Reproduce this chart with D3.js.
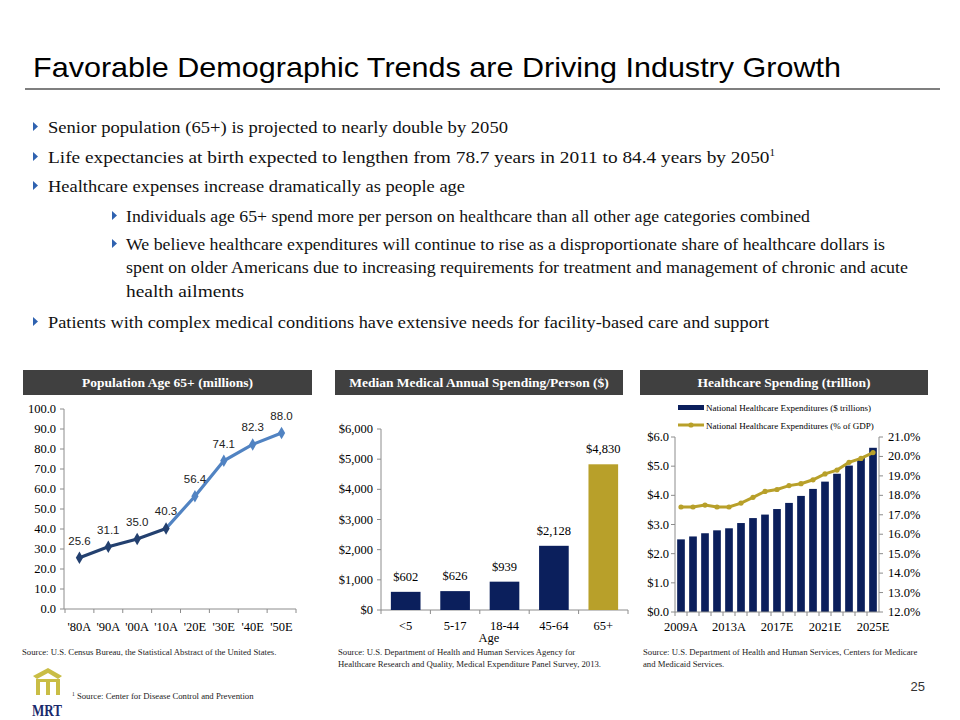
<!DOCTYPE html>
<html>
<head>
<meta charset="utf-8">
<script src="https://cdn.jsdelivr.net/npm/d3@7"></script>
<style>
  body { margin: 0; background: #fff; }
  svg { display: block; }
  .serif { font-family: "Liberation Serif", "Times New Roman", serif; }
  .sans { font-family: "Liberation Sans", Arial, sans-serif; }
</style>
</head>
<body>
<svg id="slide" width="960" height="720"></svg>
<script>
// ---- data ----
var popYears = ["'80A", "'90A", "'00A", "'10A", "'20E", "'30E", "'40E", "'50E"];
var popValues = [25.6, 31.1, 35.0, 40.3, 56.4, 74.1, 82.3, 88.0];
var popTicks = [0, 10, 20, 30, 40, 50, 60, 70, 80, 90, 100];

var ageGroups = ["<5", "5-17", "18-44", "45-64", "65+"];
var spendValues = [602, 626, 939, 2128, 4830];
var spendTicks = [0, 1000, 2000, 3000, 4000, 5000, 6000];

var nheYears = ["2009A", "2010A", "2011A", "2012A", "2013A", "2014A", "2015A", "2016E", "2017E",
  "2018E", "2019E", "2020E", "2021E", "2022E", "2023E", "2024E", "2025E"];
var nheTrillions = [2.49, 2.59, 2.70, 2.80, 2.87, 3.05, 3.22, 3.34, 3.53, 3.74, 3.98, 4.22, 4.47, 4.74, 5.02, 5.28, 5.63];
var nheGdpPct = [17.4, 17.4, 17.5, 17.4, 17.4, 17.6, 17.9, 18.2, 18.3, 18.5, 18.6, 18.8, 19.1, 19.3, 19.7, 19.9, 20.2];
var nheLabelYears = ["2009A", "2013A", "2017E", "2021E", "2025E"];
var leftTicks = [0, 1, 2, 3, 4, 5, 6];
var rightTicks = [12, 13, 14, 15, 16, 17, 18, 19, 20, 21];

var navy = "#0b1f5c";
var gold = "#b8a02a";
var axisGray = "#8c8c8c";
var tickSize = 12.5;
var serifFont = '"Liberation Serif", "Times New Roman", serif';

var svg = d3.select("#slide");

// ---- title ----
svg.append("text")
    .attr("class", "sans")
    .attr("x", 33).attr("y", 77)
    .attr("font-size", 28)
    .attr("textLength", 808)
    .attr("lengthAdjust", "spacingAndGlyphs")
    .text("Favorable Demographic Trends are Driving Industry Growth");

svg.append("line")
    .attr("x1", 25).attr("x2", 940)
    .attr("y1", 89).attr("y2", 89)
    .attr("stroke", "#000").attr("stroke-width", 1.2);

// ---- bullets ----
var bullets = [
    { level: 0, y: 133, w: 460, text: "Senior population (65+) is projected to nearly double by 2050" },
    { level: 0, y: 163, w: 727, text: "Life expectancies at birth expected to lengthen from 78.7 years in 2011 to 84.4 years by 2050", sup: "1" },
    { level: 0, y: 192, w: 417, text: "Healthcare expenses increase dramatically as people age" },
    { level: 1, y: 222, w: 684, text: "Individuals age 65+ spend more per person on healthcare than all other age categories combined" },
    { level: 1, y: 250, w: 759, text: "We believe healthcare expenditures will continue to rise as a disproportionate share of healthcare dollars is" },
    { level: 1, y: 273, w: 782, text: "spent on older Americans due to increasing requirements for treatment and management of chronic and acute", noMark: true },
    { level: 1, y: 297, w: 118, text: "health ailments", noMark: true },
    { level: 0, y: 328, w: 721, text: "Patients with complex medical conditions have extensive needs for facility-based care and support" }
];

bullets.forEach(function(b) {
    var tx = b.level === 0 ? 48 : 126;
    var mx = b.level === 0 ? 33 : 112;
    if (!b.noMark) {
        svg.append("path")
            .attr("d", "M" + mx + "," + (b.y - 11) + "L" + (mx + 5) + "," + (b.y - 6.5) + "L" + mx + "," + (b.y - 2) + "Z")
            .attr("fill", "#2f62b0");
    }
    var t = svg.append("text")
        .style("font-family", serifFont)
        .attr("x", tx).attr("y", b.y)
        .attr("font-size", 17.5)
        .attr("fill", "#111")
        .attr("textLength", b.w)
        .attr("lengthAdjust", "spacingAndGlyphs")
        .text(b.text);
    if (b.sup) {
        t.append("tspan").attr("font-size", 10).attr("dy", -7).text(b.sup);
    }
});

// ---- header bars ----
function header(x, w, label) {
    svg.append("rect")
        .attr("x", x).attr("y", 370).attr("width", w).attr("height", 25)
        .attr("fill", "#404040");
    svg.append("text")
        .attr("class", "serif")
        .attr("x", x + w / 2).attr("y", 387)
        .attr("text-anchor", "middle")
        .attr("font-size", 13.5).attr("font-weight", "bold")
        .attr("fill", "#fff")
        .text(label);
}
header(23, 289, "Population Age 65+ (millions)");
header(335, 288, "Median Medical Annual Spending/Person ($)");
header(640, 288, "Healthcare Spending (trillion)");

// ---- chart 1: population line ----
var x1 = d3.scaleBand().domain(popYears).range([65, 296]);
var y1 = d3.scaleLinear().domain([0, 100]).range([609, 409]);

var g1 = svg.append("g");
g1.append("line").attr("x1", 64).attr("x2", 64).attr("y1", y1(100)).attr("y2", y1(0)).attr("stroke", axisGray);
g1.append("line").attr("x1", 64).attr("x2", 296).attr("y1", y1(0)).attr("y2", y1(0)).attr("stroke", axisGray);
popTicks.forEach(function(t) {
    g1.append("line").attr("x1", 60).attr("x2", 64).attr("y1", y1(t)).attr("y2", y1(t)).attr("stroke", axisGray);
    g1.append("text").attr("class", "serif")
        .attr("x", 56).attr("y", y1(t) + 4)
        .attr("text-anchor", "end").attr("font-size", tickSize)
        .text(t.toFixed(1));
});
popYears.forEach(function(c, i) {
    var bx = x1(c);
    g1.append("line").attr("x1", bx).attr("x2", bx).attr("y1", y1(0)).attr("y2", y1(0) + 4).attr("stroke", axisGray);
    g1.append("text").attr("class", "serif")
        .attr("x", bx + x1.bandwidth() / 2).attr("y", 631)
        .attr("text-anchor", "middle").attr("font-size", tickSize)
        .text(c);
});
g1.append("line").attr("x1", 296).attr("x2", 296).attr("y1", y1(0)).attr("y2", y1(0) + 4).attr("stroke", axisGray);

var popPts = popValues.map(function(v, i) { return { c: popYears[i], v: v, i: i }; });
var popLine = d3.line()
    .x(function(d) { return x1(d.c) + x1.bandwidth() / 2; })
    .y(function(d) { return y1(d.v); });

g1.append("path").datum(popPts.slice(3))
    .attr("d", popLine).attr("fill", "none")
    .attr("stroke", "#5183c2").attr("stroke-width", 3.2);
g1.append("path").datum(popPts.slice(0, 4))
    .attr("d", popLine).attr("fill", "none")
    .attr("stroke", "#23406f").attr("stroke-width", 3.2);

g1.selectAll(".pop-mark").data(popPts).enter().append("path")
    .attr("class", "pop-mark")
    .attr("d", d3.symbol().type(d3.symbolDiamond).size(45))
    .attr("transform", function(d) { return "translate(" + (x1(d.c) + x1.bandwidth() / 2) + "," + y1(d.v) + ")"; })
    .attr("fill", function(d) { return d.i <= 3 ? "#23406f" : "#5183c2"; });

g1.selectAll(".pop-label").data(popPts).enter().append("text")
    .attr("class", "sans")
    .attr("x", function(d) { return x1(d.c) + x1.bandwidth() / 2; })
    .attr("y", function(d) { return y1(d.v) - 13; })
    .attr("text-anchor", "middle").attr("font-size", 11.5)
    .attr("fill", "#222")
    .text(function(d) { return d.v.toFixed(1); });

// ---- chart 2: spending bars ----
var x2 = d3.scaleBand().domain(ageGroups).range([381, 628]).paddingInner(0.4).paddingOuter(0.2);
var y2 = d3.scaleLinear().domain([0, 6000]).range([610, 429]);
var g2 = svg.append("g");
var dollar = d3.format("$,");

g2.append("line").attr("x1", 381).attr("x2", 381).attr("y1", y2(6000)).attr("y2", y2(0)).attr("stroke", axisGray);
g2.append("line").attr("x1", 381).attr("x2", 628).attr("y1", y2(0)).attr("y2", y2(0)).attr("stroke", axisGray);
spendTicks.forEach(function(t) {
    g2.append("line").attr("x1", 377).attr("x2", 381).attr("y1", y2(t)).attr("y2", y2(t)).attr("stroke", axisGray);
    g2.append("text").attr("class", "serif")
        .attr("x", 373).attr("y", y2(t) + 4)
        .attr("text-anchor", "end").attr("font-size", tickSize)
        .text(dollar(t));
});
ageGroups.forEach(function(c, i) {
    var left = 381 + i * (247 / ageGroups.length);
    g2.append("line").attr("x1", left).attr("x2", left).attr("y1", y2(0)).attr("y2", y2(0) + 4).attr("stroke", axisGray);
    g2.append("text").attr("class", "serif")
        .attr("x", x2(c) + x2.bandwidth() / 2).attr("y", 630)
        .attr("text-anchor", "middle").attr("font-size", tickSize)
        .text(c);
});
g2.append("line").attr("x1", 628).attr("x2", 628).attr("y1", y2(0)).attr("y2", y2(0) + 4).attr("stroke", axisGray);
g2.append("text").attr("class", "serif")
    .attr("x", 489).attr("y", 642)
    .attr("text-anchor", "middle").attr("font-size", tickSize)
    .text("Age");

g2.selectAll(".spend-bar").data(spendValues).enter().append("rect")
    .attr("class", "spend-bar")
    .attr("x", function(d, i) { return x2(ageGroups[i]); })
    .attr("width", x2.bandwidth())
    .attr("y", function(d) { return y2(d); })
    .attr("height", function(d) { return y2(0) - y2(d); })
    .attr("fill", function(d, i) { return i === ageGroups.length - 1 ? gold : navy; });

g2.selectAll(".spend-label").data(spendValues).enter().append("text")
    .attr("class", "serif")
    .attr("x", function(d, i) { return x2(ageGroups[i]) + x2.bandwidth() / 2; })
    .attr("y", function(d) { return y2(d) - 11; })
    .attr("text-anchor", "middle").attr("font-size", tickSize)
    .text(function(d) { return dollar(d); });

// ---- chart 3: healthcare spending combo ----
var x3 = d3.scaleBand().domain(nheYears).range([675, 879]).paddingInner(0.36).paddingOuter(0.18);
var y3 = d3.scaleLinear().domain([0, 6]).range([612, 437]);
var y3r = d3.scaleLinear().domain([12, 21]).range([612, 437]);
var g3 = svg.append("g");

g3.selectAll(".nhe-bar").data(nheTrillions).enter().append("rect")
    .attr("class", "nhe-bar")
    .attr("x", function(d, i) { return x3(nheYears[i]); })
    .attr("width", x3.bandwidth())
    .attr("y", function(d) { return y3(d); })
    .attr("height", function(d) { return y3(0) - y3(d); })
    .attr("fill", navy);

g3.append("line").attr("x1", 675).attr("x2", 675).attr("y1", 437).attr("y2", 612).attr("stroke", axisGray);
g3.append("line").attr("x1", 879).attr("x2", 879).attr("y1", 437).attr("y2", 612).attr("stroke", axisGray);
g3.append("line").attr("x1", 675).attr("x2", 879).attr("y1", 612).attr("y2", 612).attr("stroke", axisGray);
leftTicks.forEach(function(t) {
    g3.append("line").attr("x1", 671).attr("x2", 675).attr("y1", y3(t)).attr("y2", y3(t)).attr("stroke", axisGray);
    g3.append("text").attr("class", "serif")
        .attr("x", 669).attr("y", y3(t) + 4)
        .attr("text-anchor", "end").attr("font-size", tickSize)
        .text("$" + t.toFixed(1));
});
rightTicks.forEach(function(t) {
    g3.append("line").attr("x1", 879).attr("x2", 883).attr("y1", y3r(t)).attr("y2", y3r(t)).attr("stroke", axisGray);
    g3.append("text").attr("class", "serif")
        .attr("x", 888).attr("y", y3r(t) + 4)
        .attr("text-anchor", "start").attr("font-size", tickSize)
        .text(t.toFixed(1) + "%");
});
var step3 = 204 / nheYears.length;
nheYears.forEach(function(c, i) {
    var left = 675 + i * step3;
    g3.append("line").attr("x1", left).attr("x2", left).attr("y1", 612).attr("y2", 616).attr("stroke", axisGray);
});
nheLabelYears.forEach(function(c) {
    g3.append("text").attr("class", "serif")
        .attr("x", x3(c) + x3.bandwidth() / 2).attr("y", 631)
        .attr("text-anchor", "middle").attr("font-size", tickSize)
        .text(c);
});

var gdpLine = d3.line()
    .x(function(d, i) { return x3(nheYears[i]) + x3.bandwidth() / 2; })
    .y(function(d) { return y3r(d); });
g3.append("path").datum(nheGdpPct)
    .attr("d", gdpLine).attr("fill", "none")
    .attr("stroke", gold).attr("stroke-width", 3);
g3.selectAll(".gdp-dot").data(nheGdpPct).enter().append("circle")
    .attr("cx", function(d, i) { return x3(nheYears[i]) + x3.bandwidth() / 2; })
    .attr("cy", function(d) { return y3r(d); })
    .attr("r", 2.6).attr("fill", gold);

// legend
g3.append("rect").attr("x", 678).attr("y", 405).attr("width", 26).attr("height", 5).attr("fill", navy);
g3.append("text").attr("class", "serif")
    .attr("x", 706).attr("y", 411).attr("font-size", 9)
    .text("National Healthcare Expenditures ($ trillions)");
g3.append("line").attr("x1", 678).attr("x2", 704).attr("y1", 425).attr("y2", 425)
    .attr("stroke", gold).attr("stroke-width", 3);
g3.append("circle").attr("cx", 691).attr("cy", 425).attr("r", 2.6).attr("fill", gold);
g3.append("text").attr("class", "serif")
    .attr("x", 706).attr("y", 429).attr("font-size", 9)
    .text("National Healthcare Expenditures (% of GDP)");

// ---- sources ----
function source(x, y, lines) {
    lines.forEach(function(l, i) {
        svg.append("text").attr("class", "serif")
            .attr("x", x).attr("y", y + i * 12)
            .attr("font-size", 8.7).attr("fill", "#222")
            .text(l);
    });
}
source(22, 655, ["Source: U.S. Census Bureau, the Statistical Abstract of the United States."]);
source(338, 655, ["Source: U.S. Department of Health and Human Services Agency for",
    "Healthcare Research and Quality, Medical Expenditure Panel Survey, 2013."]);
source(643, 655, ["Source: U.S. Department of Health and Human Services, Centers for Medicare",
    "and Medicaid Services."]);

var fn = svg.append("text").attr("class", "serif")
    .attr("x", 72).attr("y", 699).attr("font-size", 8.7).attr("fill", "#222");
fn.append("tspan").attr("font-size", 5.5).attr("dy", -3).text("1");
fn.append("tspan").attr("dy", 3).text(" Source: Center for Disease Control and Prevention");

svg.append("text").attr("class", "sans")
    .attr("x", 925).attr("y", 691)
    .attr("text-anchor", "end").attr("font-size", 13)
    .attr("fill", "#333")
    .text("25");

// ---- logo ----
var logo = svg.append("g").attr("fill", "#c9bd45");
logo.append("path").attr("d", "M33,676 L48,668 L62,676 L58,679 L48,673 L37,679 Z");
logo.append("rect").attr("x", 36).attr("y", 679).attr("width", 4).attr("height", 16);
logo.append("rect").attr("x", 46).attr("y", 679).attr("width", 4).attr("height", 16);
logo.append("rect").attr("x", 56).attr("y", 679).attr("width", 4).attr("height", 16);
logo.append("rect").attr("x", 36).attr("y", 679).attr("width", 24).attr("height", 3);
svg.append("text").attr("class", "serif")
    .attr("x", 47).attr("y", 716)
    .attr("text-anchor", "middle").attr("font-size", 16).attr("font-weight", "bold")
    .attr("fill", "#1a2a6c")
    .attr("textLength", 30).attr("lengthAdjust", "spacingAndGlyphs")
    .text("MRT");
</script>
</body>
</html>
